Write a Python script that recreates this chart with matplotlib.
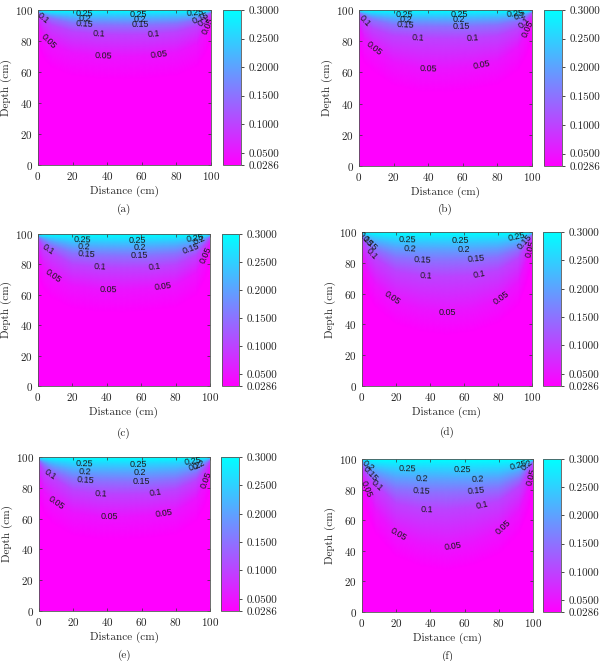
import numpy as np
import matplotlib.pyplot as plt
from matplotlib.colors import Normalize

plt.rcParams['font.family'] = 'cmr10'
plt.rcParams['mathtext.fontset'] = 'cm'
plt.rcParams['axes.formatter.use_mathtext'] = True

# estaciones en x (cm) donde se leyo la profundidad de cada isolinea
estaciones = [0, 3, 8, 20, 35, 50, 65, 80, 92, 97, 100]
niveles = [0.05, 0.1, 0.15, 0.2, 0.25]
theta_min = 0.0286
theta_max = 0.3
ticks_barra = [0.0286, 0.05, 0.1, 0.15, 0.2, 0.25, 0.3]
ticks_ejes = [0, 20, 40, 60, 80, 100]

# profundidad (cm) de las isolineas 0.05, 0.1, 0.15, 0.2, 0.25 en cada estacion
prof_a = [[92.0, 84.0, 77.5, 72.3, 70.4, 70.0, 70.6, 72.5, 78.0, 87.0, 95.0],
          [98.0, 94.8, 90.4, 86.2, 84.6, 84.3, 84.5, 86.0, 89.8, 94.5, 98.0],
          [98.8, 97.2, 94.8, 91.6, 90.6, 90.4, 90.6, 91.4, 93.8, 96.8, 98.8],
          [99.2, 98.2, 96.8, 94.8, 94.2, 94.0, 94.2, 94.6, 96.0, 98.0, 99.2],
          [99.6, 99.0, 98.3, 97.6, 97.4, 97.3, 97.4, 97.6, 98.2, 99.0, 99.6]]
prof_b = [[90.0, 81.0, 75.8, 66.5, 62.5, 62.0, 63.8, 67.0, 76.0, 86.0, 95.0],
          [97.8, 93.0, 88.0, 83.6, 82.2, 81.8, 82.0, 83.5, 88.0, 93.5, 97.8],
          [98.8, 96.8, 93.8, 90.6, 89.8, 89.6, 89.8, 90.6, 93.2, 96.5, 98.8],
          [99.2, 98.0, 96.3, 94.2, 93.7, 93.6, 93.7, 94.2, 95.8, 97.8, 99.2],
          [99.6, 99.0, 98.2, 97.3, 97.0, 96.9, 97.0, 97.3, 98.0, 99.0, 99.6]]
prof_c = [[88.0, 79.0, 72.5, 66.0, 63.5, 63.2, 64.3, 66.5, 74.5, 85.0, 94.0],
          [97.0, 92.0, 88.0, 80.0, 78.2, 77.8, 78.0, 80.0, 86.0, 93.0, 97.5],
          [98.4, 95.8, 92.5, 87.4, 86.1, 85.8, 86.0, 87.2, 91.0, 95.8, 98.6],
          [99.0, 97.5, 95.5, 92.0, 91.2, 91.0, 91.2, 92.0, 94.6, 97.5, 99.2],
          [99.5, 98.8, 97.8, 96.2, 95.7, 95.6, 95.8, 96.3, 97.6, 98.8, 99.6]]
prof_d = [[86.0, 75.0, 66.0, 55.0, 50.0, 48.0, 50.0, 55.5, 67.0, 82.0, 93.0],
          [96.5, 89.0, 83.0, 74.5, 71.6, 71.0, 72.0, 75.0, 83.0, 92.0, 97.5],
          [98.2, 93.8, 89.0, 83.5, 81.8, 81.6, 82.2, 84.0, 89.0, 95.0, 98.6],
          [99.0, 96.6, 93.0, 89.8, 89.0, 88.8, 88.8, 89.8, 93.0, 97.0, 99.2],
          [99.5, 98.5, 97.0, 95.0, 94.6, 94.5, 94.6, 95.0, 96.8, 98.6, 99.6]]
prof_e = [[87.0, 77.5, 71.5, 63.8, 61.2, 61.0, 62.2, 64.5, 73.0, 83.0, 93.5],
          [96.8, 91.0, 87.0, 78.5, 76.2, 76.0, 76.5, 78.8, 85.0, 92.0, 97.5],
          [98.3, 95.2, 91.2, 85.8, 84.5, 84.2, 84.2, 85.6, 90.0, 95.4, 98.6],
          [99.0, 97.2, 94.8, 91.0, 90.2, 90.0, 90.1, 91.0, 94.0, 97.4, 99.2],
          [99.5, 98.7, 97.6, 95.8, 95.4, 95.3, 95.5, 96.0, 97.5, 98.8, 99.6]]
prof_f = [[88.0, 80.0, 66.0, 51.0, 44.5, 42.0, 45.5, 52.5, 66.0, 80.0, 92.0],
          [95.5, 89.0, 83.5, 71.0, 67.2, 66.8, 68.8, 72.5, 82.0, 91.0, 97.0],
          [97.8, 92.5, 87.0, 80.5, 78.8, 78.6, 79.2, 81.0, 87.5, 94.5, 98.5],
          [98.8, 96.0, 92.0, 87.8, 87.0, 86.8, 86.8, 87.8, 92.0, 96.5, 99.2],
          [99.4, 98.0, 96.0, 94.0, 93.6, 93.4, 93.2, 93.6, 95.8, 98.2, 99.6]]

W, H = 607, 661
fig = plt.figure(figsize=(W / 100, H / 100), dpi=100)
norm = Normalize(theta_min, theta_max)


def Caja(l, t, r, b):
    return fig.add_axes([l / W, 1 - b / H, (r - l) / W, (b - t) / H])


def Panel(prof, ax_px, cb_px, y_letra, letra, etiquetas):
    ax = Caja(*ax_px)
    x = np.linspace(0, 100, 201)
    y = np.linspace(0, 100, 401)
    Z = np.zeros((len(y), len(x)))
    for j, xj in enumerate(x):
        d = [np.interp(xj, estaciones, fila) for fila in prof]
        Z[:, j] = np.interp(y, [max(d[0] - 15, 0)] + d + [100],
                            [theta_min] + niveles + [theta_max])
    malla = ax.pcolormesh(x, y, Z, cmap='cool_r', norm=norm, shading='gouraud')
    cs = ax.contour(x, y, Z, levels=niveles, colors='k', linewidths=0)
    textos = ax.clabel(cs, manual=etiquetas, inline=False, fontsize=6.5,
                       colors='#1a1a1a', fmt='%g')
    for t in textos:
        t.set_fontfamily('Liberation Sans')
    ax.set_xlim(0, 100)
    ax.set_ylim(0, 100)
    ax.set_xticks(ticks_ejes)
    ax.set_yticks(ticks_ejes)
    ax.tick_params(direction='in', length=2, width=0.5, top=True, right=True,
                   labelsize=8, colors='#333333', labelcolor='#222222')
    for s in ax.spines.values():
        s.set_linewidth(0.6)
        s.set_color('#555555')
    ax.set_xlabel('Distance (cm)', fontsize=8, color='#222222', labelpad=3)
    ax.set_ylabel('Depth (cm)', fontsize=8, color='#222222', labelpad=2)
    cax = Caja(*cb_px)
    cb = fig.colorbar(malla, cax=cax, ticks=ticks_barra, format='%.4f')
    cb.ax.tick_params(labelsize=8, length=2, width=0.5, labelcolor='#222222')
    cb.outline.set_linewidth(0.6)
    cb.outline.set_edgecolor('#555555')
    xc = (ax_px[0] + ax_px[2]) / 2 / W
    fig.text(xc, 1 - y_letra / H, letra, ha='center', va='center',
             fontsize=8, color='#222222')


Panel(prof_a, (38, 10, 211, 165), (223, 10, 241, 165), 209, '(a)',
      [(27, 97.4), (58, 97.4), (91, 97.6), (27, 94.2), (59, 94.2), (27, 90.6),
       (59, 90.8), (35, 84.5), (67, 84.5), (38, 70.3), (70, 71), (3, 94.6),
       (6, 80), (94, 95), (96, 92.5), (98, 90)])
Panel(prof_b, (359, 10, 532, 166), (544, 10, 562, 166), 209, '(b)',
      [(26, 96.9), (58, 96.9), (90, 97.5), (27, 93.7), (58, 93.7), (27, 89.8),
       (59, 89.8), (34, 82), (66, 82), (40, 62), (71, 64.5), (2.5, 92.5),
       (9, 75.4), (93, 95.5), (95, 92.5), (97.7, 88)])
Panel(prof_c, (38, 234, 210, 386), (222, 234, 239, 386), 433, '(c)',
      [(26, 95.6), (58, 95.8), (91, 97.4), (27, 91.2), (59, 91.2), (28, 86.2),
       (59, 85.9), (36, 78), (68, 78), (41, 63.3), (73, 64.6), (6, 89.5),
       (8.7, 72), (89, 90.6), (94, 95), (97, 87)])
Panel(prof_d, (362, 232, 532, 386), (543, 232, 561, 386), 432, '(d)',
      [(27, 94.6), (58, 94.6), (91, 97), (28, 89), (60, 88.8), (35.5, 81.7),
       (67, 82.3), (37.5, 71.3), (69, 72.3), (18, 57), (50, 48), (82.5, 56.5),
       (1.5, 95.7), (4.5, 92.4), (5.5, 86), (95, 94), (98, 90)])
Panel(prof_e, (39, 457, 210, 611), (221, 457, 239, 611), 655, '(e)',
      [(26.5, 95.4), (58, 95.5), (90, 97.3), (27, 90.2), (59, 90.1),
       (27, 84.6), (60, 84.2), (36, 76.2), (68, 76.6), (41, 61.1), (73, 62.8),
       (6.4, 88.5), (10, 70.5), (91, 93), (94, 94), (97.7, 85)])
Panel(prof_f, (362, 459, 533, 612), (543, 459, 561, 612), 656, '(f)',
      [(26.5, 94), (59, 93.2), (91, 97), (35, 86.9), (67.4, 86.9), (34.7, 78.8),
       (67, 79.4), (38, 66.9), (70.8, 69.2), (21, 50), (53, 42.2), (83.4, 55),
       (3.5, 95.8), (5.5, 91.5), (9.4, 83), (2.5, 80), (96, 96), (98, 89)])

plt.savefig('out.png', dpi=100)
